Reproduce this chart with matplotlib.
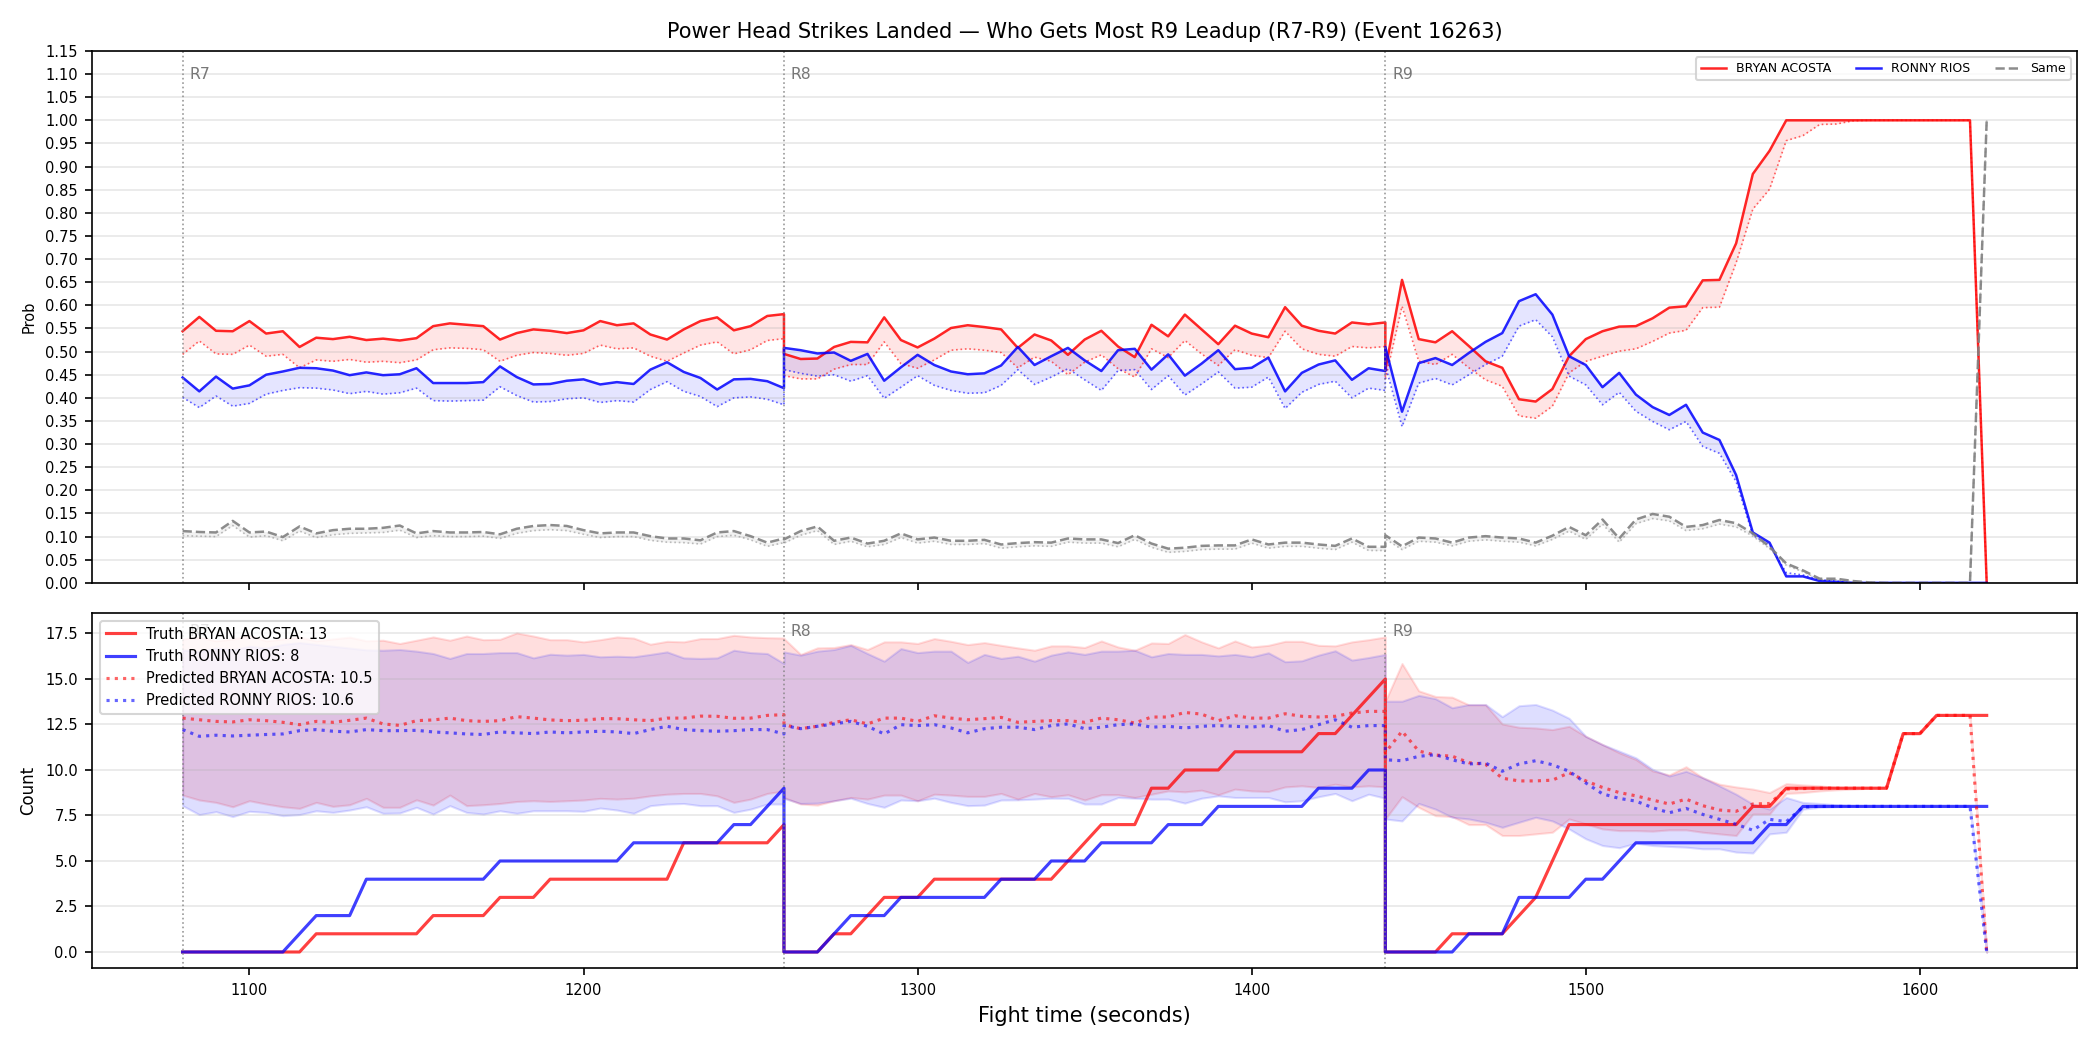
import numpy as np
import matplotlib
matplotlib.use("Agg")
import matplotlib.pyplot as plt
from matplotlib.ticker import MultipleLocator, FormatStrFormatter
import matplotlib.transforms as mtransforms

# ---------------- data ----------------
ROUNDS = ["R7", "R8", "R9"]
ROUND_START = [1080, 1260, 1440]
ROUND_LEN = 180
STEP = 5
FIGHTER_A = "BRYAN ACOSTA"
FIGHTER_B = "RONNY RIOS"
TRUTH_FINAL = [13, 8]
PRED_FINAL = [10.5, 10.6]

# top panel: probability (main) and lower (dotted) per round
PROB_A = [
    [0.544,0.575,0.545,0.544,0.566,0.539,0.544,0.510,0.530,0.527,0.532,0.525,0.528,0.524,0.529,0.555,0.561,0.558,0.555,0.526,0.540,0.548,0.545,0.540,0.546,0.566,0.557,0.561,0.537,0.526,0.548,0.566,0.574,0.546,0.555,0.577,0.581],
    [0.495,0.484,0.485,0.510,0.521,0.520,0.574,0.525,0.509,0.528,0.551,0.557,0.553,0.548,0.508,0.537,0.524,0.493,0.526,0.545,0.511,0.488,0.558,0.533,0.580,0.548,0.516,0.556,0.539,0.531,0.596,0.556,0.545,0.539,0.563,0.559,0.563],
    [0.460,0.655,0.527,0.520,0.544,0.512,0.479,0.465,0.397,0.392,0.419,0.490,0.527,0.544,0.554,0.555,0.572,0.595,0.598,0.654,0.655,0.734,0.884,0.934,1.0,1.0,1.0,1.0,1.0,1.0,1.0,1.0,1.0,1.0,1.0,1.0,0.0],
]
PROB_A_LO = [
    [0.494,0.523,0.495,0.494,0.514,0.490,0.494,0.465,0.482,0.479,0.483,0.477,0.479,0.476,0.482,0.504,0.508,0.507,0.504,0.479,0.492,0.498,0.496,0.492,0.496,0.514,0.506,0.508,0.490,0.479,0.497,0.514,0.521,0.495,0.504,0.524,0.528],
    [0.448,0.441,0.441,0.462,0.472,0.472,0.521,0.474,0.464,0.482,0.503,0.506,0.503,0.498,0.465,0.488,0.479,0.450,0.477,0.493,0.463,0.445,0.506,0.487,0.524,0.495,0.470,0.504,0.492,0.487,0.544,0.506,0.494,0.490,0.511,0.508,0.511],
    [0.440,0.598,0.479,0.472,0.494,0.465,0.439,0.425,0.361,0.356,0.382,0.454,0.479,0.490,0.501,0.506,0.522,0.540,0.546,0.595,0.596,0.692,0.808,0.851,0.956,0.967,0.991,0.992,0.999,1.0,1.0,1.0,1.0,1.0,1.0,1.0,0.0],
]
PROB_B = [
    [0.444,0.414,0.446,0.420,0.427,0.450,0.457,0.465,0.464,0.459,0.449,0.455,0.449,0.451,0.464,0.432,0.432,0.432,0.434,0.468,0.445,0.429,0.430,0.437,0.440,0.429,0.434,0.430,0.461,0.477,0.456,0.443,0.418,0.440,0.441,0.436,0.421],
    [0.508,0.503,0.496,0.498,0.480,0.495,0.437,0.466,0.493,0.471,0.457,0.451,0.453,0.470,0.510,0.471,0.490,0.508,0.481,0.458,0.503,0.506,0.461,0.494,0.448,0.474,0.503,0.462,0.465,0.487,0.414,0.454,0.472,0.481,0.439,0.464,0.458],
    [0.510,0.370,0.475,0.486,0.471,0.497,0.521,0.540,0.609,0.624,0.580,0.490,0.471,0.423,0.454,0.407,0.380,0.363,0.385,0.325,0.309,0.233,0.109,0.087,0.014,0.014,0.004,0.002,0,0,0,0,0,0,0,0,0],
]
PROB_B_LO = [
    [0.401,0.379,0.404,0.382,0.388,0.408,0.416,0.422,0.421,0.417,0.409,0.414,0.408,0.411,0.421,0.394,0.393,0.394,0.395,0.424,0.405,0.391,0.392,0.398,0.400,0.390,0.394,0.391,0.418,0.435,0.414,0.403,0.381,0.400,0.402,0.397,0.385],
    [0.461,0.453,0.447,0.450,0.436,0.448,0.399,0.423,0.448,0.427,0.416,0.410,0.411,0.427,0.461,0.429,0.445,0.463,0.439,0.416,0.459,0.461,0.418,0.448,0.406,0.430,0.456,0.421,0.423,0.445,0.377,0.412,0.429,0.436,0.400,0.421,0.416],
    [0.470,0.338,0.432,0.442,0.428,0.450,0.472,0.490,0.555,0.569,0.532,0.447,0.428,0.385,0.412,0.371,0.349,0.331,0.349,0.295,0.280,0.219,0.103,0.082,0.022,0.017,0.007,0.004,0,0,0,0,0,0,0,0,0],
]
PROB_SAME = [
    [0.112,0.110,0.109,0.134,0.109,0.111,0.099,0.122,0.107,0.114,0.117,0.117,0.119,0.124,0.107,0.112,0.109,0.109,0.110,0.105,0.117,0.123,0.125,0.123,0.114,0.107,0.109,0.109,0.101,0.096,0.096,0.092,0.109,0.112,0.101,0.087,0.096],
    [0.094,0.112,0.122,0.091,0.098,0.085,0.091,0.107,0.094,0.098,0.091,0.091,0.093,0.083,0.086,0.088,0.087,0.096,0.094,0.094,0.086,0.103,0.085,0.074,0.076,0.080,0.081,0.081,0.094,0.083,0.087,0.087,0.083,0.080,0.096,0.078,0.078],
    [0.103,0.079,0.098,0.096,0.087,0.098,0.101,0.098,0.096,0.087,0.102,0.121,0.103,0.137,0.096,0.137,0.149,0.143,0.121,0.125,0.136,0.129,0.107,0.078,0.042,0.027,0.009,0.009,0.004,0.001,0,0,0,0,0,0,1.0],
]
PROB_SAME_LO = [
    [0.102,0.101,0.100,0.124,0.099,0.102,0.091,0.112,0.098,0.104,0.107,0.108,0.109,0.114,0.098,0.102,0.100,0.100,0.101,0.096,0.107,0.113,0.115,0.113,0.105,0.098,0.100,0.100,0.092,0.088,0.087,0.084,0.100,0.103,0.093,0.079,0.087],
    [0.086,0.103,0.113,0.083,0.090,0.078,0.083,0.098,0.086,0.090,0.083,0.083,0.085,0.075,0.078,0.080,0.079,0.088,0.086,0.086,0.078,0.094,0.077,0.066,0.068,0.072,0.073,0.073,0.086,0.075,0.079,0.079,0.075,0.072,0.088,0.070,0.070],
    [0.095,0.072,0.090,0.088,0.080,0.090,0.093,0.090,0.088,0.080,0.094,0.112,0.094,0.127,0.088,0.128,0.139,0.134,0.113,0.117,0.127,0.121,0.101,0.074,0.038,0.024,0.007,0.006,0.002,0.001,0,0,0,0,0,0,1.0],
]

# bottom panel: counts
TRUTH_A = [
    [0,0,0,0,0,0,0,0,1,1,1,1,1,1,1,2,2,2,2,3,3,3,4,4,4,4,4,4,4,4,6,6,6,6,6,6,7],
    [0,0,0,1,1,2,3,3,3,4,4,4,4,4,4,4,4,5,6,7,7,7,9,9,10,10,10,11,11,11,11,11,12,12,13,14,15],
    [0,0,0,0,1,1,1,1,2,3,5,7,7,7,7,7,7,7,7,7,7,7,8,8,9,9,9,9,9,9,9,12,12,13,13,13,13],
]
TRUTH_B = [
    [0,0,0,0,0,0,0,1,2,2,2,4,4,4,4,4,4,4,4,5,5,5,5,5,5,5,5,6,6,6,6,6,6,7,7,8,9],
    [0,0,0,1,2,2,2,3,3,3,3,3,3,4,4,4,5,5,5,6,6,6,6,7,7,7,8,8,8,8,8,8,9,9,9,10,10],
    [0,0,0,0,0,1,1,1,3,3,3,3,4,4,5,6,6,6,6,6,6,6,6,7,7,8,8,8,8,8,8,8,8,8,8,8,8],
]
PRED_A = [
    [12.85,12.76,12.67,12.64,12.76,12.71,12.62,12.49,12.67,12.62,12.73,12.85,12.53,12.45,12.71,12.75,12.85,12.71,12.67,12.71,12.93,12.85,12.75,12.71,12.73,12.82,12.82,12.76,12.71,12.85,12.85,12.96,12.95,12.84,12.85,13.00,13.04],
    [12.49,12.27,12.40,12.62,12.76,12.53,12.85,12.85,12.67,12.98,12.85,12.76,12.82,12.89,12.62,12.67,12.71,12.71,12.62,12.85,12.76,12.58,12.91,12.91,13.16,13.07,12.71,12.98,12.85,12.85,13.09,12.95,12.91,12.95,13.13,13.22,13.22],
    [10.95,12.13,11.04,10.82,10.76,10.40,10.31,9.55,9.40,9.40,9.44,9.85,9.40,9.04,8.76,8.58,8.35,8.13,8.40,8.04,7.80,7.73,8.13,8.16,8.95,8.98,9.0,9.0,9.0,9.0,9.0,12.0,12.0,13.0,13.0,13.0,0.0],
]
PRED_B = [
    [12.22,11.85,11.91,11.87,11.91,11.95,11.98,12.16,12.22,12.13,12.09,12.22,12.16,12.16,12.18,12.09,12.04,11.98,11.95,12.09,12.04,12.00,12.09,12.04,12.09,12.13,12.09,12.00,12.22,12.40,12.22,12.16,12.13,12.16,12.22,12.22,11.98],
    [12.44,12.27,12.40,12.53,12.67,12.40,11.98,12.49,12.44,12.49,12.31,12.04,12.27,12.35,12.35,12.22,12.44,12.53,12.27,12.35,12.49,12.53,12.35,12.40,12.31,12.40,12.44,12.40,12.36,12.44,12.13,12.22,12.49,12.76,12.35,12.44,12.44],
    [10.56,10.51,10.75,10.84,10.56,10.33,10.38,9.93,10.33,10.51,10.29,9.93,9.29,8.69,8.44,8.29,7.93,7.65,7.89,7.56,7.29,7.02,6.69,7.29,7.16,7.96,8.0,8.0,8.0,8.0,8.0,8.0,8.0,8.0,8.0,8.0,0.0],
]
PRED_A_HI = [
    [17.2,17.3,17.1,17.2,17.4,17.1,17.2,17.3,17.1,17.2,17.3,17.1,17.13,16.95,17.13,17.31,17.13,17.36,17.16,17.18,17.53,17.36,17.16,17.16,17.04,17.16,17.31,17.25,16.91,17.07,17.04,17.22,17.22,17.40,17.31,17.27,17.25],
    [17.22,16.35,16.71,16.73,16.89,16.62,17.04,17.04,16.95,17.22,17.07,16.89,17.00,16.85,16.71,16.58,16.82,16.82,16.73,17.09,16.76,16.58,16.98,16.95,17.44,17.04,16.71,17.09,16.76,16.85,17.07,17.07,16.85,16.82,17.04,17.16,17.31],
    [13.78,15.85,14.35,14.04,14.0,13.58,13.58,12.53,12.35,12.31,12.22,12.40,11.85,11.40,10.95,10.58,9.95,9.73,10.18,9.58,9.22,9.07,8.95,8.76,9.25,9.18,9.13,9.04,9.0,9.0,9.0,12.0,12.0,13.0,13.0,13.0,0.0],
]
PRED_A_LO = [
    [8.62,8.35,8.22,7.98,8.31,8.13,7.98,7.89,8.22,8.00,8.09,8.44,7.95,7.95,8.36,8.07,8.62,8.04,8.09,8.16,8.27,8.31,8.27,8.31,8.35,8.44,8.40,8.45,8.58,8.67,8.71,8.71,8.58,8.22,8.40,8.71,8.85],
    [8.49,8.13,8.07,8.31,8.49,8.40,8.62,8.62,8.31,8.67,8.62,8.55,8.55,8.71,8.40,8.71,8.53,8.64,8.35,8.64,8.64,8.49,8.67,8.85,8.80,8.89,8.64,8.95,8.85,8.82,9.07,9.13,9.04,9.22,9.07,9.13,9.07],
    [7.31,8.53,7.95,7.49,7.44,7.0,7.0,6.40,6.40,6.49,6.58,7.31,7.04,6.76,6.67,6.67,6.64,6.71,6.71,6.58,6.49,6.40,7.58,7.58,8.71,8.76,8.85,8.91,8.95,9.0,9.0,12.0,12.0,13.0,13.0,13.0,0.0],
]
PRED_B_HI = [
    [16.6,16.5,16.7,16.6,16.8,16.7,16.9,17.0,16.9,16.8,16.7,16.6,16.58,16.62,16.53,16.40,16.13,16.40,16.40,16.45,16.45,16.16,16.36,16.31,16.35,16.22,16.25,16.22,16.35,16.49,16.16,16.13,16.16,16.58,16.45,16.40,15.85],
    [16.49,16.31,16.53,16.62,16.85,16.40,15.98,16.67,16.45,16.53,16.53,15.91,16.35,16.13,16.25,15.98,16.31,16.49,16.35,16.53,16.53,16.58,16.22,16.40,16.35,16.35,16.27,16.35,16.22,16.44,15.95,16.00,16.31,16.55,16.04,16.18,16.35],
    [13.78,13.78,14.10,13.92,13.42,13.60,13.60,12.93,13.53,13.60,13.29,12.84,11.85,11.40,11.04,10.67,10.04,9.67,9.93,9.58,9.13,8.67,8.13,7.85,8.49,8.22,8.16,8.09,8.04,8.0,8.0,8.0,8.0,8.0,8.0,8.0,0.0],
]
PRED_B_LO = [
    [8.04,7.55,7.71,7.44,7.73,7.67,7.49,7.55,7.76,7.67,7.80,7.98,7.62,7.64,7.95,7.58,8.04,7.67,7.58,7.76,7.62,7.76,7.76,7.76,7.73,7.91,7.80,7.62,8.04,8.13,8.16,8.04,8.04,7.67,7.85,8.13,8.13],
    [8.44,8.16,8.18,8.31,8.45,8.16,7.95,8.35,8.31,8.45,8.22,8.04,8.07,8.35,8.36,8.40,8.45,8.44,8.13,8.13,8.49,8.45,8.40,8.40,8.18,8.45,8.58,8.49,8.49,8.49,8.25,8.31,8.53,8.71,8.31,8.67,8.45],
    [7.31,7.20,8.16,7.85,7.40,7.31,7.13,6.85,7.13,7.40,7.20,6.76,6.22,5.85,5.73,5.98,5.85,5.80,5.76,5.67,5.67,5.49,5.44,6.49,6.58,7.85,7.95,7.98,8.0,8.0,8.0,8.0,8.0,8.0,8.0,8.0,0.0],
]

# ---------------- build series ----------------
t = np.concatenate([np.arange(s, s + ROUND_LEN + 1, STEP) for s in ROUND_START])
cat = lambda rounds: np.concatenate([np.asarray(r, dtype=float) for r in rounds])

pa, pa_lo = cat(PROB_A), cat(PROB_A_LO)
pb, pb_lo = cat(PROB_B), cat(PROB_B_LO)
ps, ps_lo = cat(PROB_SAME), cat(PROB_SAME_LO)
ta, tb = cat(TRUTH_A), cat(TRUTH_B)
qa, qb = cat(PRED_A), cat(PRED_B)
qa_hi, qa_lo = cat(PRED_A_HI), cat(PRED_A_LO)
qb_hi, qb_lo = cat(PRED_B_HI), cat(PRED_B_LO)

# ---------------- figure ----------------
fig = plt.figure(figsize=(14, 7), dpi=150)
gs = fig.add_gridspec(2, 1, height_ratios=[3, 2], left=0.044, right=0.989,
                      top=0.9515, bottom=0.078, hspace=0.069)
ax1 = fig.add_subplot(gs[0])
ax2 = fig.add_subplot(gs[1], sharex=ax1)

# top panel
ax1.fill_between(t, pa_lo, pa, color="red", alpha=0.1, lw=0)
ax1.fill_between(t, pb_lo, pb, color="blue", alpha=0.1, lw=0)
ax1.fill_between(t, ps_lo, ps, color="gray", alpha=0.1, lw=0)
ax1.plot(t, pa, color="red", lw=1.2, alpha=0.85, label=FIGHTER_A)
ax1.plot(t, pa_lo, color="red", lw=0.8, ls=":", alpha=0.6)
ax1.plot(t, pb, color="blue", lw=1.2, alpha=0.85, label=FIGHTER_B)
ax1.plot(t, pb_lo, color="blue", lw=0.8, ls=":", alpha=0.6)
ax1.plot(t, ps, color="gray", lw=1.2, ls="--", alpha=0.9, label="Same")
ax1.plot(t, ps_lo, color="gray", lw=0.8, ls=":", alpha=0.5)

ax1.set_ylim(0, 1.15)
ax1.yaxis.set_major_locator(MultipleLocator(0.05))
ax1.yaxis.set_major_formatter(FormatStrFormatter("%.2f"))
ax1.set_ylabel("Prob", fontsize=7)
ax1.set_title("Power Head Strikes Landed \u2014 Who Gets Most R9 Leadup (R7-R9) (Event 16263)",
              fontsize=10)
ax1.grid(True, axis="y", alpha=0.3)
ax1.tick_params(labelsize=7)
plt.setp(ax1.get_xticklabels(), visible=False)
ax1.legend(loc="upper right", ncol=3, fontsize=6)

# bottom panel
ax2.fill_between(t, qa_lo, qa_hi, color="red", alpha=0.13)
ax2.fill_between(t, qb_lo, qb_hi, color="blue", alpha=0.13)
ax2.plot(t, ta, color="red", lw=1.5, alpha=0.75, label=f"Truth {FIGHTER_A}: {TRUTH_FINAL[0]}")
ax2.plot(t, tb, color="blue", lw=1.5, alpha=0.75, label=f"Truth {FIGHTER_B}: {TRUTH_FINAL[1]}")
ax2.plot(t, qa, color="red", lw=1.5, ls=":", alpha=0.6, label=f"Predicted {FIGHTER_A}: {PRED_FINAL[0]}")
ax2.plot(t, qb, color="blue", lw=1.5, ls=":", alpha=0.6, label=f"Predicted {FIGHTER_B}: {PRED_FINAL[1]}")
ax2.set_ylim(-0.885, 18.6)
ax2.yaxis.set_major_locator(MultipleLocator(2.5))
ax2.set_ylabel("Count", fontsize=8)
ax2.set_xlabel("Fight time (seconds)", fontsize=10)
ax2.grid(True, axis="y", alpha=0.3)
ax2.tick_params(labelsize=7)
ax2.legend(loc="upper left", fontsize=7)

ax2.set_xlim(ROUND_START[0] - 27, ROUND_START[-1] + ROUND_LEN + 27)

for ax in (ax1, ax2):
    trans = mtransforms.blended_transform_factory(ax.transData, ax.transAxes)
    for s, name in zip(ROUND_START, ROUNDS):
        ax.axvline(s, color="gray", ls=":", lw=0.8, alpha=0.8)
        ax.text(s + 2, 0.97, name, transform=trans, va="top", ha="left",
                fontsize=7.5, color="dimgray", alpha=0.9)

fig.savefig("out.png", dpi=150)
